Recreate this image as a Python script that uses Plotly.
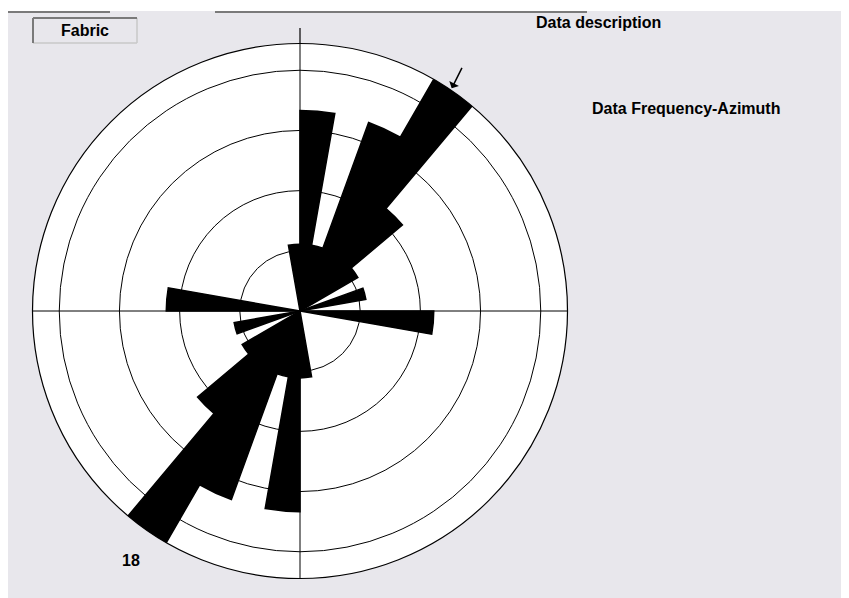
import plotly.graph_objects as go

# Rose diagram data: 10-degree azimuth bins (bin centres) and frequencies
bin_centres = [5, 15, 25, 35, 45, 55, 65, 75, 85, 95, 105, 115, 125, 135, 145, 155, 165, 175,
               185, 195, 205, 215, 225, 235, 245, 255, 265, 275, 285, 295, 305, 315, 325, 335, 345, 355]
frequency = [13.5, 4.5, 13.5, 18, 9, 4.5, 0, 4.5, 0, 9, 0, 0, 0, 0, 0, 0, 0, 4.5,
             13.5, 4.5, 13.5, 18, 9, 4.5, 0, 4.5, 0, 9, 0, 0, 0, 0, 0, 0, 0, 4.5]
bin_width = 10
max_freq = 18
max_label = "18"
grid_rings = [4.05, 8.1, 12.15, 16.2]
cross_dirs = [0, 90, 180, 270]

W, H = 849, 598
OFF = 8  # page body margin
BG = "#e8e7ec"
FONT = dict(family="Liberation Sans, Arial, sans-serif", size=16, color="black", weight="bold")


def px(x):
    return (x - OFF) / W


def py(y):
    return 1 - (y - OFF) / H


cx, cy, R = 300, 311, 267.5

fig = go.Figure()
fig.add_trace(go.Barpolar(
    r=frequency, theta=bin_centres, width=[bin_width] * len(bin_centres),
    marker=dict(color="black", line=dict(color="black", width=1.5)),
    hoverinfo="skip", showlegend=False,
))

fig.update_layout(
    width=W, height=H, autosize=False,
    margin=dict(l=0, r=0, t=0, b=0),
    paper_bgcolor=BG,
    showlegend=False,
    polar=dict(
        domain=dict(x=[px(cx - R), px(cx + R)], y=[py(cy + R), py(cy - R)]),
        bgcolor="white",
        bargap=0,
        radialaxis=dict(range=[0, max_freq], tickvals=grid_rings, showticklabels=False,
                        showline=False, ticks="", gridcolor="black", gridwidth=1),
        angularaxis=dict(direction="clockwise", rotation=90, tickvals=cross_dirs,
                         showticklabels=False, ticks="", showgrid=True, gridcolor="black",
                         gridwidth=1.2, showline=True, linecolor="black", linewidth=1.2),
    ),
)

shapes = []
# white top strip and tab lines
shapes.append(dict(type="rect", xref="paper", yref="paper", x0=0, x1=1, y0=py(11), y1=1,
                   fillcolor="white", line=dict(width=0), layer="below"))
for x0, x1 in [(8, 110), (215, 587)]:
    shapes.append(dict(type="line", xref="paper", yref="paper", x0=px(x0), x1=px(x1),
                       y0=py(12), y1=py(12), line=dict(color="#7a7a7a", width=2)))
# Fabric box (sunken)
bx0, bx1, by0, by1 = 33, 137, 18, 43
shapes.append(dict(type="line", xref="paper", yref="paper", x0=px(bx0), x1=px(bx1),
                   y0=py(by1), y1=py(by1), line=dict(color="#c8c8c8", width=1.5)))
shapes.append(dict(type="line", xref="paper", yref="paper", x0=px(bx1), x1=px(bx1),
                   y0=py(by0), y1=py(by1), line=dict(color="#c8c8c8", width=1.5)))
shapes.append(dict(type="line", xref="paper", yref="paper", x0=px(bx0), x1=px(bx1),
                   y0=py(by0), y1=py(by0), line=dict(color="#7a7a7a", width=2)))
shapes.append(dict(type="line", xref="paper", yref="paper", x0=px(bx0), x1=px(bx0),
                   y0=py(by0), y1=py(by1), line=dict(color="#7a7a7a", width=2)))
# north tick above circle
shapes.append(dict(type="line", xref="paper", yref="paper", x0=px(cx), x1=px(cx),
                   y0=py(cy - R), y1=py(28), line=dict(color="black", width=1.2)))
fig.update_layout(shapes=shapes)

ann = [
    dict(text="Fabric", x=px(85), y=py(31)),
    dict(text="Data description", x=px(598), y=py(23)),
    dict(text="Data Frequency-Azimuth", x=px(686), y=py(108)),
    dict(text=max_label, x=px(131), y=py(560)),
]
for a in ann:
    fig.add_annotation(xref="paper", yref="paper", showarrow=False, xanchor="center",
                       yanchor="middle", font=FONT, **a)
# mean direction arrow
fig.add_annotation(xref="paper", yref="paper", x=px(451.7), y=py(88.3), text="",
                   showarrow=True, ax=11, ay=-22, arrowhead=1, arrowsize=1.2,
                   arrowwidth=1.5, arrowcolor="black")

fig.write_html("out.html")
